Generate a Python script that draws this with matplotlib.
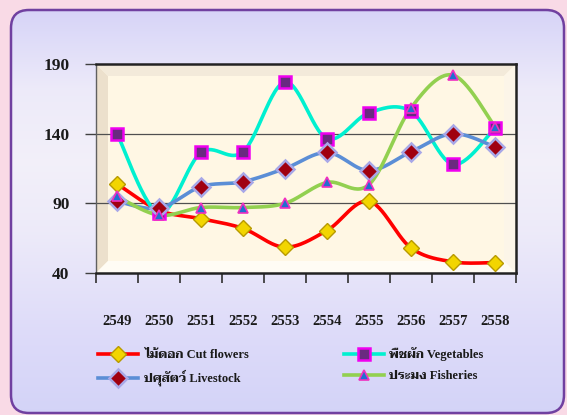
import numpy as np
import matplotlib
matplotlib.use("Agg")
import matplotlib.pyplot as plt
from matplotlib.patches import FancyBboxPatch, Polygon
from matplotlib.lines import Line2D

plt.rcParams['font.family'] = ['Liberation Serif', 'Taviraj', 'Trirong', 'Noto Serif Thai',
                               'Sarabun', 'Anuphan', 'DejaVu Sans']
plt.rcParams['font.weight'] = 'bold'

# data
years = ['2549', '2550', '2551', '2552', '2553', '2554', '2555', '2556', '2557', '2558']
cut_flowers = [104, 85, 79, 72, 58.5, 70.5, 91.5, 58, 48, 47.5]
vegetables = [140, 83, 126.5, 127, 177, 136.5, 155, 156, 118, 144]
livestock = [91.5, 86.5, 102, 105.5, 115, 126.5, 113.5, 127, 140, 130.5]
fisheries = [95, 81.5, 87, 87, 90, 105, 103.5, 158.5, 182, 145]
labels = ['ไม้ดอก Cut flowers', 'พืชผัก Vegetables', 'ปศุสัตว์ Livestock', 'ประมง Fisheries']
yticks = [40, 90, 140, 190]


def smooth(xs, ys, n=30):
    # Bezier smoothing like a spreadsheet "smoothed line"
    xs = np.asarray(xs, float)
    ys = np.asarray(ys, float)
    px, py = [], []
    for i in range(len(xs) - 1):
        i0 = max(i - 1, 0)
        i3 = min(i + 2, len(xs) - 1)
        c1x = xs[i] + (xs[i + 1] - xs[i0]) / 6
        c1y = ys[i] + (ys[i + 1] - ys[i0]) / 6
        c2x = xs[i + 1] - (xs[i3] - xs[i]) / 6
        c2y = ys[i + 1] - (ys[i3] - ys[i]) / 6
        t = np.linspace(0, 1, n)
        px.extend((1 - t) ** 3 * xs[i] + 3 * (1 - t) ** 2 * t * c1x + 3 * (1 - t) * t ** 2 * c2x + t ** 3 * xs[i + 1])
        py.extend((1 - t) ** 3 * ys[i] + 3 * (1 - t) ** 2 * t * c1y + 3 * (1 - t) * t ** 2 * c2y + t ** 3 * ys[i + 1])
    return px, py


fig = plt.figure(figsize=(5.67, 4.15), dpi=100)
fig.patch.set_facecolor('#F9DAE6')

# background panel with gradient
bg = fig.add_axes([0, 0, 1, 1])
bg.set_xlim(0, 567)
bg.set_ylim(0, 415)
bg.axis('off')
panel = FancyBboxPatch((11, 2), 553, 403, boxstyle='round,pad=0,rounding_size=18',
                       facecolor='none', edgecolor='#7040A0', linewidth=1.8, zorder=3)
bg.add_patch(panel)
stops = np.array([0, 0.2, 0.45, 0.62, 0.8, 1.0])
cols = np.array([[0.83, 0.83, 0.97], [0.87, 0.86, 0.98], [0.93, 0.92, 0.98],
                 [0.95, 0.94, 0.98], [0.93, 0.92, 0.98], [0.84, 0.83, 0.97]])
yy = np.linspace(0, 1, 200)
grad = np.stack([np.interp(yy, stops, cols[:, k]) for k in range(3)], axis=-1)
grad = np.repeat(grad[:, None, :], 2, axis=1)
im = bg.imshow(grad, extent=(11, 564, 405, 2), aspect='auto', zorder=1)
im.set_clip_path(panel)

ax = fig.add_axes([96 / 567, 142 / 415, 420 / 567, 209 / 415])
ax.set_facecolor('#FFF7E4')
x = np.arange(len(years))
ax.set_xlim(-0.5, len(years) - 0.5)
ax.set_ylim(40, 190)

# bevel of plot area
bw, bh = 12 / 420, 12 / 209
bevels = [
    ([(0, 0), (bw, bh), (bw, 1 - bh), (0, 1)], '#ECE0CC'),
    ([(0, 1), (bw, 1 - bh), (1 - bw, 1 - bh), (1, 1)], '#F3EADA'),
    ([(1, 1), (1 - bw, 1 - bh), (1 - bw, bh), (1, 0)], '#FCF5E8'),
    ([(0, 0), (bw, bh), (1 - bw, bh), (1, 0)], '#FFFCF4'),
]
for pts, c in bevels:
    ax.add_patch(Polygon(pts, closed=True, transform=ax.transAxes, facecolor=c,
                         edgecolor='none', zorder=0))

for v in [90, 140]:
    ax.axhline(v, color='#505050', lw=0.9, zorder=1)

series = [
    (cut_flowers, '#FF0000', dict(marker='D', ms=8, mfc='#F2D500', mec='#B89A00', mew=1.0)),
    (vegetables, '#00F0D0', dict(marker='s', ms=9, mfc='#6A2A80', mec='#F000F0', mew=1.8)),
    (livestock, '#5B8ED6', dict(marker='D', ms=9, mfc='#A00010', mec='#A8A8E8', mew=1.8)),
    (fisheries, '#92D050', dict(marker='^', ms=7, mfc='#1F6FD0', mec='#F030C0', mew=1.2)),
]
handles = []
for i, (vals, color, mk) in enumerate(series):
    sx, sy = smooth(x, vals)
    ax.plot(sx, sy, color=color, lw=2.6, zorder=2 + i, solid_capstyle='round')
    ax.plot(x, vals, linestyle='none', zorder=6 + i, **mk)
    handles.append(Line2D([], [], color=color, lw=2.6, **mk))

for side in ['left', 'bottom', 'top', 'right']:
    ax.spines[side].set_color('#222222')
    ax.spines[side].set_linewidth(1.8)
ax.spines['left'].set_color('#606060')
ax.spines['left'].set_linewidth(1.0)

ax.set_yticks(yticks)
ax.set_yticklabels([str(v) for v in yticks], fontsize=12.5, fontweight='bold', color='#1A1A1A')
ax.tick_params(axis='y', length=8, width=1.0, color='#404040', pad=11)
ax.set_xticks(x)
ax.set_xticklabels(years, fontsize=10.5, fontweight='bold', color='#1A1A1A')
ax.tick_params(axis='x', which='major', length=0, pad=30)
ax.set_xticks(np.arange(-0.5, len(years)), minor=True)
ax.tick_params(axis='x', which='minor', length=7, width=1.2, color='#303030')

order = [0, 2, 1, 3]
leg = fig.legend([handles[i] for i in order], [labels[i] for i in order], ncol=2,
                 loc='upper left', bbox_to_anchor=(87 / 567, 1 - 336 / 415),
                 frameon=False, handlelength=3.2, handletextpad=0.45, columnspacing=7.6,
                 labelspacing=0.7, prop={'size': 9, 'weight': 'bold'})
for t in leg.get_texts():
    t.set_color('#1A1A1A')

fig.savefig('out.png', dpi=100, facecolor=fig.get_facecolor())
